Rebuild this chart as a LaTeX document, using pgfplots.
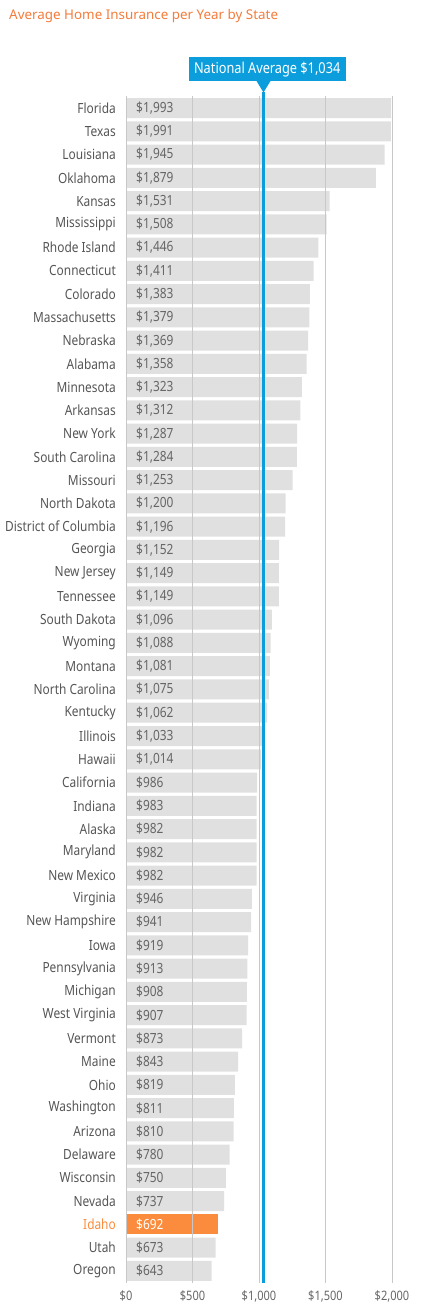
\documentclass[border=0pt]{standalone}
\usepackage{fontspec}
\setmainfont{Noto Sans}[FakeStretch=0.85]
\newfontfamily\titlefont{Noto Sans}
\usepackage{pgfplots}
\pgfplotsset{compat=1.18}
\usepackage{pgfplotstable}
\definecolor{barg}{HTML}{E0E0E0}
\definecolor{gridc}{HTML}{C8C8C8}
\definecolor{avgblue}{HTML}{0C9DDC}
\definecolor{idahoc}{HTML}{FB8C3D}
\definecolor{titlec}{HTML}{F47B3B}
\definecolor{labc}{HTML}{555555}
\definecolor{valc}{HTML}{666666}
\pgfplotstableread{
idx value
0 1993
1 1991
2 1945
3 1879
4 1531
5 1508
6 1446
7 1411
8 1383
9 1379
10 1369
11 1358
12 1323
13 1312
14 1287
15 1284
16 1253
17 1200
18 1196
19 1152
20 1149
21 1149
22 1096
23 1088
24 1081
25 1075
26 1062
27 1033
28 1014
29 986
30 983
31 982
32 982
33 982
34 946
35 941
36 919
37 913
38 908
39 907
40 873
41 843
42 819
43 811
44 810
45 780
46 750
47 737
49 673
50 643
}\rest
\pgfplotstableread{
idx value
48 692
}\idaho
\begin{document}
\begin{tikzpicture}[x=1pt,y=1pt]
\useasboundingbox (0,0) rectangle (439,-1311);
\node[anchor=west, text=titlec, font=\titlefont\fontsize{13.4}{15}\selectfont, inner sep=0pt] at (9,-16) {Average Home Insurance per Year by State};
\begin{axis}[
  at={(126pt,-96.4pt)}, anchor=north west,
  scale only axis, width=266pt, height=1186.2pt,
  xmin=0, xmax=2000, ymin=-0.5, ymax=50.5, y dir=reverse,
  clip=false, axis on top,
  axis line style={draw=none}, major tick length=0pt,
  xmajorgrids, grid style={color=gridc, line width=1pt},
  bar width=20pt,
  /pgf/number format/assume math mode=true,
  /pgf/number format/.cd, fixed, precision=0, 1000 sep={,}, /pgfplots/.cd,
  xtick={0,500,1000,1500,2000},
  xticklabels={{\$0},{\$500},{\$1,000},{\$1,500},{\$2,000}},
  xticklabel style={font=\fontsize{13}{15}\selectfont, text=valc, inner sep=0pt, yshift=-8pt},
  ytick={0,...,50},
  yticklabels={Florida,Texas,Louisiana,Oklahoma,Kansas,Mississippi,Rhode Island,Connecticut,Colorado,Massachusetts,Nebraska,Alabama,Minnesota,Arkansas,New York,South Carolina,Missouri,North Dakota,District of Columbia,Georgia,New Jersey,Tennessee,South Dakota,Wyoming,Montana,North Carolina,Kentucky,Illinois,Hawaii,California,Indiana,Alaska,Maryland,New Mexico,Virginia,New Hampshire,Iowa,Pennsylvania,Michigan,West Virginia,Vermont,Maine,Ohio,Washington,Arizona,Delaware,Wisconsin,Nevada,\textcolor{idahoc}{Idaho},Utah,Oregon},
  yticklabel style={font=\fontsize{14}{16}\selectfont, text=labc, inner sep=0pt, xshift=-10pt},
]
\addplot[xbar, fill=barg, draw=none, bar shift=0pt] table[x=value, y=idx]{\rest};
\addplot[xbar, fill=idahoc, draw=none, bar shift=0pt] table[x=value, y=idx]{\idaho};
\addplot[draw=none, mark=none, point meta=explicit,
  nodes near coords={\$\pgfmathprintnumber{\pgfplotspointmeta}},
  nodes near coords style={anchor=west, text=valc, font=\fontsize{14}{16}\selectfont, inner sep=0pt, xshift=10pt}]
  table[x expr=0, y=idx, meta=value]{\rest};
\addplot[draw=none, mark=none, point meta=explicit,
  nodes near coords={\$\pgfmathprintnumber{\pgfplotspointmeta}},
  nodes near coords style={anchor=west, text=white, font=\fontsize{14}{16}\selectfont, inner sep=0pt, xshift=10pt}]
  table[x expr=0, y=idx, meta=value]{\idaho};
\addplot[avgblue, line width=2.3pt] coordinates {(1034,-0.7) (1034,50.5)};
\end{axis}
\fill[avgblue] (188.5,-57) rectangle (346,-81.3);
\fill[avgblue] (256.5,-81) -- (270.5,-81) -- (263.5,-92.5) -- cycle;
\node[text=white, font=\fontsize{15}{17}\selectfont, inner sep=0pt] at (267.2,-69.2) {National Average \$1,034};
\end{tikzpicture}
\end{document}
